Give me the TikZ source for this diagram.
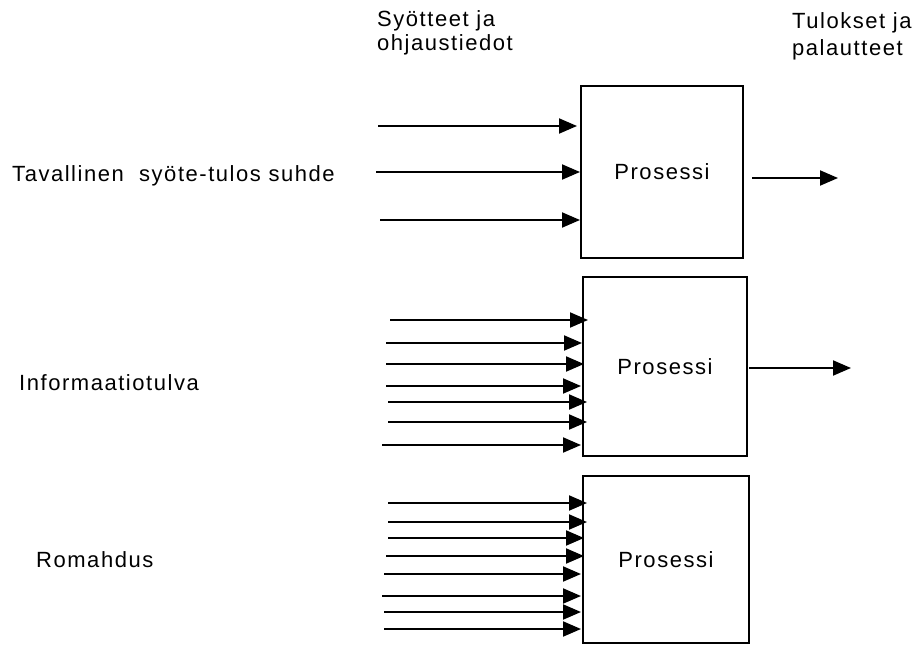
\documentclass[tikz,border=0pt]{standalone}
\usepackage{fontspec}
\setmainfont{Liberation Sans}[LetterSpace=7]
\usetikzlibrary{arrows.meta}
\begin{document}
\begin{tikzpicture}[x=1pt,y=-1pt,
  arr/.style={line width=2pt,-{Triangle[length=18pt,width=15pt]}},
  procbox/.style={draw,line width=2pt,inner sep=0pt,font=\fontsize{22}{24}\selectfont},
  lbl/.style={anchor=base west,inner sep=0pt,align=left,font=\fontsize{22}{24}\selectfont}]
\useasboundingbox (0,0) rectangle (917,645);
% boxes
\node[procbox,minimum width=162pt,minimum height=172pt] (B1) at (662,172) {Prosessi};
\node[procbox,minimum width=164pt,minimum height=179pt] (B2) at (665,366.5) {Prosessi};
\node[procbox,minimum width=166pt,minimum height=167pt] (B3) at (666,559.5) {Prosessi};
% labels
\node[lbl] (t1) at (377,50) {Syötteet ja\\ohjaustiedot};
\node[lbl,font=\fontsize{22}{27}\selectfont] (t2) at (792,55) {Tulokset ja\\palautteet};
\node[lbl] (l1) at (12,181) {Tavallinen\ \ syöte-tulos suhde};
\node[lbl] (l2) at (19,390) {Informaatiotulva};
\node[lbl] (l3) at (36,567) {Romahdus};
% inputs group 1
\foreach \i/\xs/\y/\dx in {1/378/126/-3, 2/376/172/0, 3/380/220/0}{
  \coordinate (a\i) at (\xs,\y);
  \draw[arr] (a\i) -- ([xshift=\dx pt]a\i -| B1.west);
}
% inputs group 2
\foreach \i/\xs/\y/\dx in {1/390/320/6, 2/386/343/0, 3/386/364/2, 4/386/386/-1, 5/388/402/5, 6/388/422/5, 7/382/445/-1}{
  \coordinate (b\i) at (\xs,\y);
  \draw[arr] (b\i) -- ([xshift=\dx pt]b\i -| B2.west);
}
% inputs group 3
\foreach \i/\xs/\y/\dx in {1/388/503/5, 2/388/522/5, 3/388/538/2, 4/386/556/2, 5/384/574/-1, 6/382/596/-1, 7/384/612/-1, 8/384/629/-1}{
  \coordinate (c\i) at (\xs,\y);
  \draw[arr] (c\i) -- ([xshift=\dx pt]c\i -| B3.west);
}
% outputs
\coordinate (o1) at (838,178);
\coordinate (o2) at (851,368);
\draw[arr] ([xshift=8pt]o1 -| B1.east) -- (o1);
\draw[arr] ([xshift=1pt]o2 -| B2.east) -- (o2);
\end{tikzpicture}
\end{document}
